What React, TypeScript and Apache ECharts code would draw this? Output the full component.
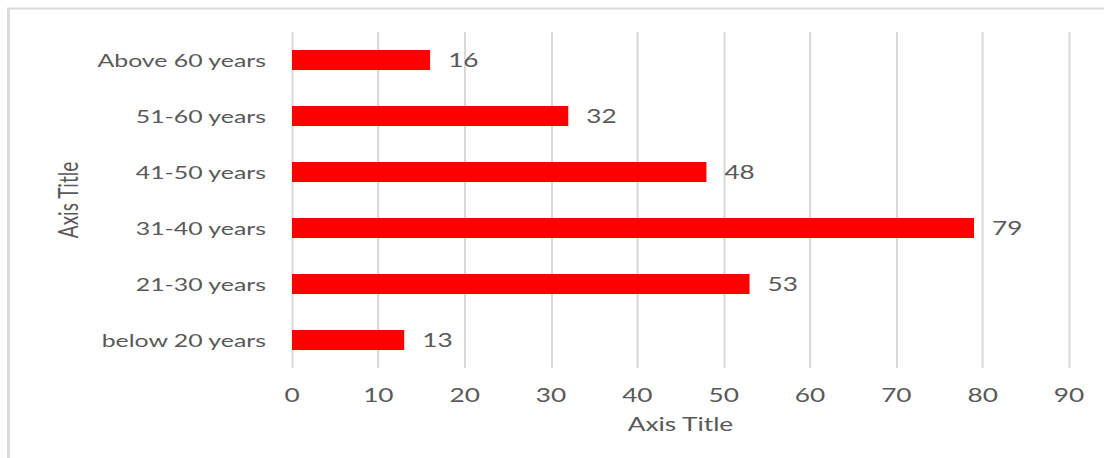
import React, { useEffect, useRef } from "react";
import * as echarts from "echarts";

const categories = ["below 20 years", "21-30 years", "31-40 years", "41-50 years", "51-60 years", "Above 60 years"];
const values = [13, 53, 79, 48, 32, 16];
const xAxisTitle = "Axis Title";
const yAxisTitle = "Axis Title";

const FONT = "Lato";
// The reference rendering is stretched horizontally; reproduce with a horizontal scale.
const S = 1.38;
const W = 1104;
const H = 458;

export default function App() {
  const ref = useRef<HTMLDivElement>(null);
  useEffect(() => {
    if (!ref.current) return;
    const chart = echarts.init(ref.current, null, { renderer: "svg" });
    chart.setOption({
      animation: false,
      backgroundColor: "#ffffff",
      graphic: [
        {
          type: "rect",
          shape: { x: 8.5 / S, y: 8.5, width: 1300, height: 700 },
          style: { fill: "none", stroke: "#d9d9d9", lineWidth: 2 },
          silent: true,
        },
      ],
      grid: { left: 292 / S, right: 35 / S, top: 32, bottom: 90, containLabel: false },
      xAxis: {
        type: "value",
        min: 0,
        max: 90,
        interval: 10,
        name: xAxisTitle,
        nameLocation: "middle",
        nameGap: 46,
        nameTextStyle: { color: "#595959", fontSize: 19, fontFamily: FONT },
        axisLine: { show: false },
        axisTick: { show: false },
        axisLabel: { color: "#595959", fontSize: 19, fontFamily: FONT, margin: 17 },
        splitLine: { show: true, lineStyle: { color: "#d9d9d9", width: 1.5 } },
      },
      yAxis: {
        type: "category",
        data: categories,
        name: yAxisTitle,
        nameLocation: "middle",
        nameGap: 153,
        nameTextStyle: { color: "#595959", fontSize: 19, fontFamily: FONT },
        axisLine: { show: false },
        axisTick: { show: false },
        axisLabel: { color: "#595959", fontSize: 18, fontFamily: FONT, margin: 26 / S },
        splitLine: { show: false },
      },
      series: [
        {
          type: "bar",
          data: values,
          barWidth: 20,
          itemStyle: { color: "#ff0000" },
          label: {
            show: true,
            position: "right",
            distance: 18 / S,
            color: "#595959",
            fontSize: 19,
            fontFamily: FONT,
          },
        },
      ],
    });
    return () => chart.dispose();
  }, []);
  return (
    <div
      ref={ref}
      style={{
        position: "fixed",
        left: 0,
        top: 0,
        width: W / S,
        height: H,
        transform: `scaleX(${S})`,
        transformOrigin: "0 0",
      }}
    />
  );
}
